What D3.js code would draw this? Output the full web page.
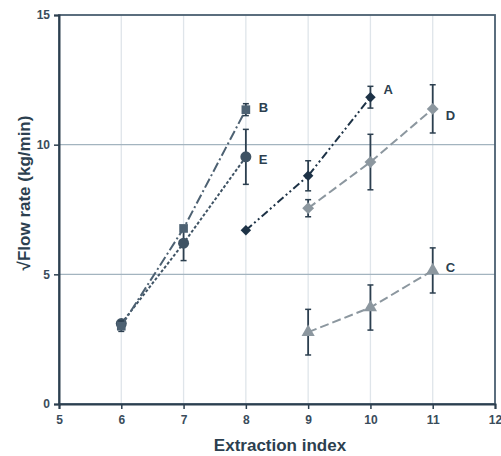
<!DOCTYPE html>
<html>
<head>
<meta charset="utf-8">
<script src="https://cdn.jsdelivr.net/npm/d3@7"></script>
<style>
  body { margin: 0; background: #fff; }
  svg { display: block; font-family: "Liberation Sans", Arial, sans-serif; }
</style>
</head>
<body>
<div id="chart-area"></div>
<script>
// Series data: x = extraction index, y = sqrt flow rate, e = error (+/-)
let seriesA = [
    {x: 8, y: 6.7, e: 0},
    {x: 9, y: 8.8, e: 0.58},
    {x: 10, y: 11.83, e: 0.42}
];
let seriesB = [
    {x: 6, y: 3.0, e: 0.2},
    {x: 7, y: 6.77, e: 0},
    {x: 8, y: 11.35, e: 0.23}
];
let seriesC = [
    {x: 9, y: 2.77, e: 0.88},
    {x: 10, y: 3.72, e: 0.87},
    {x: 11, y: 5.15, e: 0.87}
];
let seriesD = [
    {x: 9, y: 7.55, e: 0.33},
    {x: 10, y: 9.33, e: 1.07},
    {x: 11, y: 11.38, e: 0.93}
];
let seriesE = [
    {x: 6, y: 3.1, e: 0},
    {x: 7, y: 6.2, e: 0.67},
    {x: 8, y: 9.53, e: 1.06}
];

let xTicks = [5, 6, 7, 8, 9, 10, 11, 12];
let yTicks = [0, 5, 10, 15];

let margin = {top: 15, right: 6, bottom: 52, left: 59};
let width = 501 - margin.left - margin.right;
let height = 456 - margin.top - margin.bottom;

let svg = d3.select("#chart-area").append("svg")
    .attr("width", 501)
    .attr("height", 456)
    .append("g")
    .attr("transform", "translate(" + margin.left + "," + margin.top + ")");

let xScale = d3.scaleLinear().domain([5, 12]).range([0, width]);
let yScale = d3.scaleLinear().domain([0, 15]).range([height, 0]);

// Vertical gridlines
svg.selectAll(".vgrid")
    .data(xTicks.slice(1, -1))
    .enter().append("line")
    .attr("x1", d => xScale(d)).attr("x2", d => xScale(d))
    .attr("y1", 0).attr("y2", height)
    .attr("stroke", "#dfe5ea")
    .attr("stroke-width", 1.3);

// Horizontal gridlines
svg.selectAll(".hgrid")
    .data([5, 10])
    .enter().append("line")
    .attr("x1", 0).attr("x2", width)
    .attr("y1", d => yScale(d)).attr("y2", d => yScale(d))
    .attr("stroke", "#a3b4bf")
    .attr("stroke-width", 1.2);

// Frame
svg.append("rect")
    .attr("width", width).attr("height", height)
    .attr("fill", "none")
    .attr("stroke", "#4a5f70")
    .attr("stroke-width", 1.8);

// Axes
let xAxis = svg.append("g")
    .attr("transform", "translate(0," + height + ")")
    .call(d3.axisBottom(xScale).tickValues(xTicks).tickSize(5).tickPadding(6).tickFormat(d3.format("d")));
let yAxis = svg.append("g")
    .call(d3.axisLeft(yScale).tickValues(yTicks).tickSize(5).tickPadding(4).tickFormat(d3.format("d")));

[xAxis, yAxis].forEach(ax => {
    ax.select(".domain").attr("stroke", "#2c3f4f").attr("stroke-width", 2);
    ax.selectAll(".tick line").attr("stroke", "#2c3f4f").attr("stroke-width", 1.5);
    ax.selectAll(".tick text")
        .attr("fill", "#3a4c5b")
        .style("font-size", "12px")
        .style("font-weight", "bold")
        .style("font-family", "Liberation Sans, Arial, sans-serif");
});

// Axis titles
svg.append("text")
    .attr("x", 221)
    .attr("y", height + 47)
    .attr("text-anchor", "middle")
    .attr("fill", "#2c3f4f")
    .style("font-size", "17px")
    .style("font-weight", "bold")
    .text("Extraction index");

svg.append("text")
    .attr("transform", "rotate(-90)")
    .attr("x", -178)
    .attr("y", -29)
    .attr("text-anchor", "middle")
    .attr("fill", "#2c3f4f")
    .style("font-size", "17px")
    .style("font-weight", "bold")
    .text("\u221AFlow rate (kg/min)");

let line = d3.line().x(d => xScale(d.x)).y(d => yScale(d.y));

let series = [
    {name: "E", data: seriesE, color: "#3f5364", dash: "3,2", symbol: d3.symbolCircle, size: 95, rot: 0},
    {name: "B", data: seriesB, color: "#4d6172", dash: "10,3,2,3", symbol: d3.symbolSquare, size: 75, rot: 0},
    {name: "A", data: seriesA, color: "#1d3246", dash: "8,3,2,3,2,3", symbol: d3.symbolSquare, size: 55, rot: 45},
    {name: "D", data: seriesD, color: "#8c979f", dash: "9,4", symbol: d3.symbolSquare, size: 70, rot: 45},
    {name: "C", data: seriesC, color: "#8c979f", dash: "9,4", symbol: d3.symbolTriangle, size: 75, rot: 0}
];

series.forEach(s => {
    svg.append("path")
        .datum(s.data)
        .attr("d", line)
        .attr("fill", "none")
        .attr("stroke", s.color)
        .attr("stroke-width", 2)
        .attr("stroke-dasharray", s.dash);

    // error bars
    let eb = svg.selectAll(null).data(s.data.filter(d => d.e > 0)).enter().append("g");
    eb.append("line")
        .attr("x1", d => xScale(d.x)).attr("x2", d => xScale(d.x))
        .attr("y1", d => yScale(d.y + d.e)).attr("y2", d => yScale(d.y - d.e))
        .attr("stroke", "#2c3f4f").attr("stroke-width", 1.8);
    eb.append("line")
        .attr("x1", d => xScale(d.x) - 3).attr("x2", d => xScale(d.x) + 3)
        .attr("y1", d => yScale(d.y + d.e)).attr("y2", d => yScale(d.y + d.e))
        .attr("stroke", "#2c3f4f").attr("stroke-width", 1.5);
    eb.append("line")
        .attr("x1", d => xScale(d.x) - 3).attr("x2", d => xScale(d.x) + 3)
        .attr("y1", d => yScale(d.y - d.e)).attr("y2", d => yScale(d.y - d.e))
        .attr("stroke", "#2c3f4f").attr("stroke-width", 1.5);

    svg.selectAll(null).data(s.data).enter().append("path")
        .attr("d", d3.symbol().type(s.symbol).size(s.size))
        .attr("transform", d => "translate(" + xScale(d.x) + "," + yScale(d.y) + ") rotate(" + s.rot + ")")
        .attr("fill", s.color);

    let last = s.data[s.data.length - 1];
    svg.append("text")
        .attr("x", xScale(last.x) + 13)
        .attr("y", yScale(last.y) + (s.name === "D" ? 11 : s.name === "E" ? 7 : s.name === "A" ? -3 : 2))
        .attr("fill", "#2c3f4f")
        .style("font-size", "13px")
        .style("font-weight", "bold")
        .text(s.name);
});
</script>
</body>
</html>
